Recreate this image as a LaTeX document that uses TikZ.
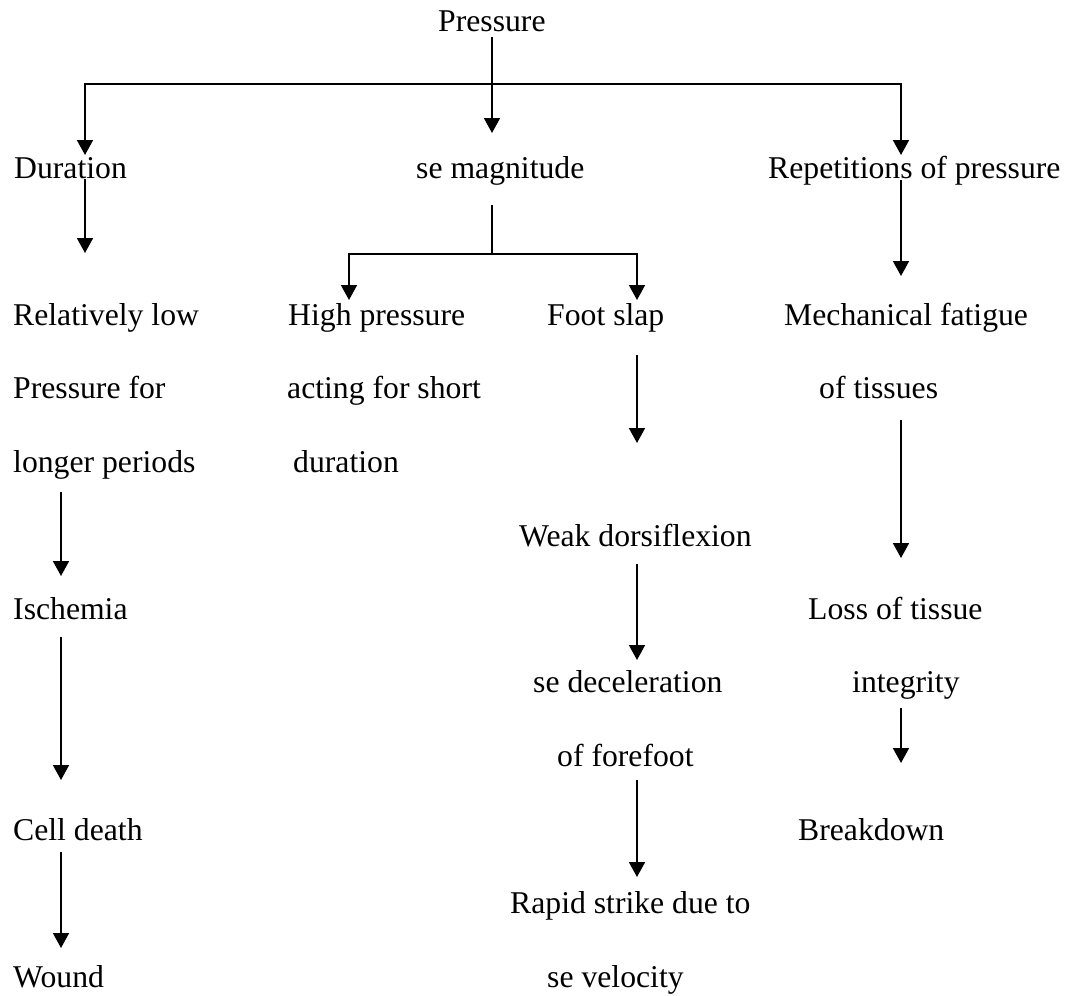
\documentclass[tikz,border=0pt]{standalone}
\usepackage{fontspec}
\setmainfont{Liberation Serif}
\usetikzlibrary{arrows.meta,calc}
\tikzset{
  lbl/.style={font=\fontsize{31.7}{38}\selectfont, inner sep=0pt, anchor=base west},
  ln/.style={line width=1.8pt},
  arr/.style={line width=1.8pt, -{Triangle[length=15pt,width=16pt]}}
}
\begin{document}
\begin{tikzpicture}[x=1pt,y=-1pt]
\useasboundingbox (0,0) rectangle (1072,996);

% column guides for the connectors
\coordinate (cL) at (61,0);
\coordinate (cD) at (85,0);
\coordinate (cH) at (349,0);
\coordinate (cM) at (492,0);
\coordinate (cF) at (637,0);
\coordinate (cR) at (901,0);

% labels
\node[lbl] (press) at (438,31)  {Pressure};
\node[lbl] (dur)   at (14,178)  {Duration};
\node[lbl] (mag)   at (416,178) {se magnitude};
\node[lbl] (rep)   at (768,178) {Repetitions of pressure};

\node[lbl] (rel)   at (13,325)  {Relatively low};
\node[lbl] (high)  at (288,325) {High pressure};
\node[lbl] (foot)  at (547,325) {Foot slap};
\node[lbl] (mech)  at (784,325) {Mechanical fatigue};

\node[lbl] (pfor)  at (13,398)  {Pressure for};
\node[lbl] (act)   at (287,398) {acting for short};
\node[lbl] (tis)   at (819,398) {of tissues};

\node[lbl] (longer) at (13,472) {longer periods};
\node[lbl] (durn)  at (293,472) {duration};

\node[lbl] (weak)  at (519,546) {Weak dorsiflexion};

\node[lbl] (isch)  at (13,619)  {Ischemia};
\node[lbl] (loss)  at (808,619) {Loss of tissue};

\node[lbl] (decel) at (533,692) {se deceleration};
\node[lbl] (integ) at (852,692) {integrity};

\node[lbl] (fore)  at (557,766) {of forefoot};

\node[lbl] (cell)  at (13,840)  {Cell death};
\node[lbl] (brk)   at (798,840) {Breakdown};

\node[lbl] (rapid) at (510,913) {Rapid strike due to};

\node[lbl] (wound) at (13,987)  {Wound};
\node[lbl] (vel)   at (547,987) {se velocity};

% branching from Pressure
\coordinate (barT) at ($(press.base -| cM)+(0,53)$);
\draw[arr] ($(press.base -| cM)+(0,6)$) -- ($(mag.base -| cM)+(0,-45)$);
\draw[arr] (barT) -| ($(dur.base -| cD)+(0,-23)$);
\draw[arr] (barT) -| ($(rep.base -| cR)+(0,-23)$);

% duration branch
\coordinate (durEnd) at ($(dur.base -| cD)+(0,75)$);
\draw[arr] ($(dur.base -| cD)+(0,1)$) -- (durEnd);
\draw[arr] ($(longer.base -| cL)+(0,20)$) -- ($(isch.base -| cL)+(0,-43)$);
\draw[arr] ($(isch.base -| cL)+(0,18)$) -- ($(cell.base -| cL)+(0,-60)$);
\draw[arr] ($(cell.base -| cL)+(0,12)$) -- ($(wound.base -| cL)+(0,-39)$);

% magnitude branch
\coordinate (barM) at ($(mag.base -| cM)+(0,76)$);
\draw[ln] ($(mag.base -| cM)+(0,27)$) -- (barM);
\draw[arr] (barM) -| ($(high.base -| cH)+(0,-25)$);
\draw[arr] (barM) -| ($(foot.base -| cF)+(0,-25)$);
\draw[arr] ($(foot.base -| cF)+(0,30)$) -- ($(weak.base -| cF)+(0,-103)$);
\draw[arr] ($(weak.base -| cF)+(0,18)$) -- ($(decel.base -| cF)+(0,-32)$);
\draw[arr] ($(fore.base -| cF)+(0,14)$) -- ($(rapid.base -| cF)+(0,-36)$);

% repetition branch
\draw[arr] ($(rep.base -| cR)+(0,2)$) -- ($(mech.base -| cR)+(0,-49)$);
\draw[arr] ($(tis.base -| cR)+(0,22)$) -- ($(loss.base -| cR)+(0,-61)$);
\draw[arr] ($(integ.base -| cR)+(0,16)$) -- ($(brk.base -| cR)+(0,-77)$);
\end{tikzpicture}
\end{document}
